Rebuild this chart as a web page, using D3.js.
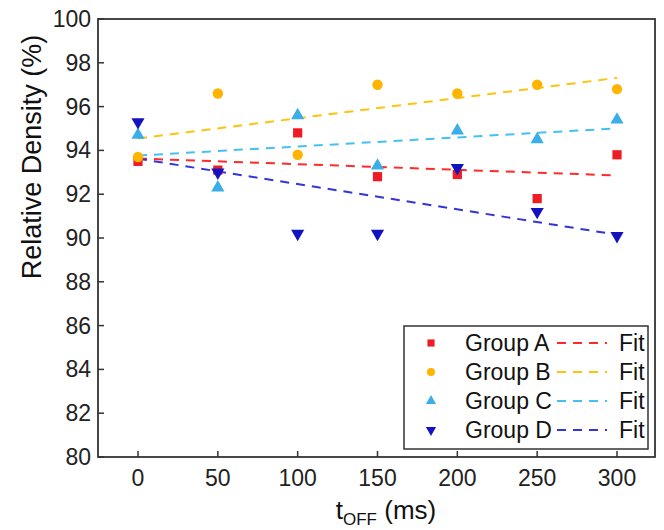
<!DOCTYPE html>
<html><head><meta charset="utf-8">
<script src="https://cdn.jsdelivr.net/npm/d3@7"></script>
<style>body{margin:0;background:#fff}svg{display:block}text{font-family:"Liberation Sans",Arial,sans-serif}</style>
</head><body><svg id="c" width="664" height="530"></svg>
<script>
const xValues = [0, 50, 100, 150, 200, 250, 300];
const groupA = [93.5, 93.1, 94.8, 92.8, 92.9, 91.8, 93.8];
const groupB = [93.7, 96.6, 93.8, 97.0, 96.6, 97.0, 96.8];
const groupC = [94.7, 92.3, 95.6, 93.3, 94.9, 94.5, 95.4];
const groupD = [95.3, 93.0, 90.2, 90.2, 93.2, 91.2, 90.1];
const seriesNames = ["Group A", "Group B", "Group C", "Group D"];
const xTicks = [0, 50, 100, 150, 200, 250, 300];
const yTicks = [80, 82, 84, 86, 88, 90, 92, 94, 96, 98, 100];

const series = [
  {name: seriesNames[0], vals: groupA, color: "#ee1c24", fit: "#ff2a2a", sym: d3.symbolSquare, size: 85, rot: 0},
  {name: seriesNames[1], vals: groupB, color: "#ffb400", fit: "#ffc20e", sym: d3.symbolCircle, size: 85, rot: 0},
  {name: seriesNames[2], vals: groupC, color: "#3aaee8", fit: "#45c0f5", sym: d3.symbolTriangle, size: 75, rot: 0},
  {name: seriesNames[3], vals: groupD, color: "#1212c0", fit: "#3434d8", sym: d3.symbolTriangle, size: 75, rot: 180}
];

const svg = d3.select("#c");
const L = 98, T = 19, R = 655, B = 457;
const x0 = 138, x300 = 617, k = (x300 - x0) / 300;
const x = d3.scaleLinear().domain([-(x0 - L) / k, 300 + (R - x300) / k]).range([L, R]);
const y = d3.scaleLinear().domain([80, 100]).range([B, T]);

const g = svg.append("g");
g.selectAll(".xt").data(xTicks).join("line")
  .attr("x1", d => x(d)).attr("x2", d => x(d)).attr("y1", B).attr("y2", B - 6)
  .attr("stroke", "#333").attr("stroke-width", 1.5);
g.selectAll(".yt").data(yTicks).join("line")
  .attr("y1", d => y(d)).attr("y2", d => y(d)).attr("x1", L).attr("x2", L + 6)
  .attr("stroke", "#333").attr("stroke-width", 1.5);
g.selectAll(".xl").data(xTicks).join("text")
  .attr("x", d => x(d)).attr("y", B + 29).attr("text-anchor", "middle")
  .attr("font-size", 23).attr("fill", "#222").text(d => d);
g.selectAll(".yl").data(yTicks).join("text")
  .attr("x", L - 7).attr("y", d => y(d) + 8).attr("text-anchor", "end")
  .attr("font-size", 23).attr("fill", "#222").text(d => d);

function fit(vals) {
  const mx = d3.mean(xValues), my = d3.mean(vals);
  const sxy = d3.sum(xValues, (v, i) => (v - mx) * (vals[i] - my));
  const sxx = d3.sum(xValues, v => (v - mx) * (v - mx));
  const b = sxy / sxx; return v => my + b * (v - mx);
}
series.forEach(s => {
  const f = fit(s.vals);
  svg.append("line").attr("x1", x(0)).attr("x2", x(300))
    .attr("y1", y(f(0))).attr("y2", y(f(300)))
    .attr("stroke", s.fit).attr("stroke-width", 2).attr("stroke-dasharray", "9,7");
});
series.forEach(s => {
  svg.append("g").selectAll("path").data(s.vals).join("path")
    .attr("d", d3.symbol().type(s.sym).size(s.size))
    .attr("transform", (d, i) => `translate(${x(xValues[i])},${y(d)}) rotate(${s.rot})`)
    .attr("fill", s.color);
});

svg.append("rect").attr("x", L).attr("y", T).attr("width", R - L).attr("height", B - T)
  .attr("fill", "none").attr("stroke", "#333").attr("stroke-width", 1.8);

const lg = svg.append("g");
lg.append("rect").attr("x", 404).attr("y", 326).attr("width", 244).attr("height", 123)
  .attr("fill", "#fff").attr("stroke", "#333").attr("stroke-width", 1.5);
series.forEach((s, i) => {
  const yy = 343 + i * 29;
  lg.append("path").attr("d", d3.symbol().type(s.sym).size(s.size * 0.6))
    .attr("transform", `translate(431,${yy}) rotate(${s.rot})`).attr("fill", s.color);
  lg.append("text").attr("x", 465).attr("y", yy + 8).attr("font-size", 23).attr("fill", "#111").text(s.name);
  lg.append("line").attr("x1", 557).attr("x2", 607).attr("y1", yy).attr("y2", yy)
    .attr("stroke", s.fit).attr("stroke-width", 2).attr("stroke-dasharray", "9,7");
  lg.append("text").attr("x", 619).attr("y", yy + 8).attr("font-size", 23).attr("fill", "#111").text("Fit");
});

const xt = svg.append("text").attr("x", 386).attr("y", 519).attr("text-anchor", "middle")
  .attr("font-size", 26).attr("fill", "#111");
xt.append("tspan").text("t");
xt.append("tspan").attr("font-size", 17).attr("dy", 6).text("OFF");
xt.append("tspan").attr("dy", -6).text(" (ms)");
svg.append("text").attr("transform", `translate(41,157) rotate(-90)`)
  .attr("text-anchor", "middle").attr("font-size", 27).attr("fill", "#111").text("Relative Density (%)");
</script></body></html>
